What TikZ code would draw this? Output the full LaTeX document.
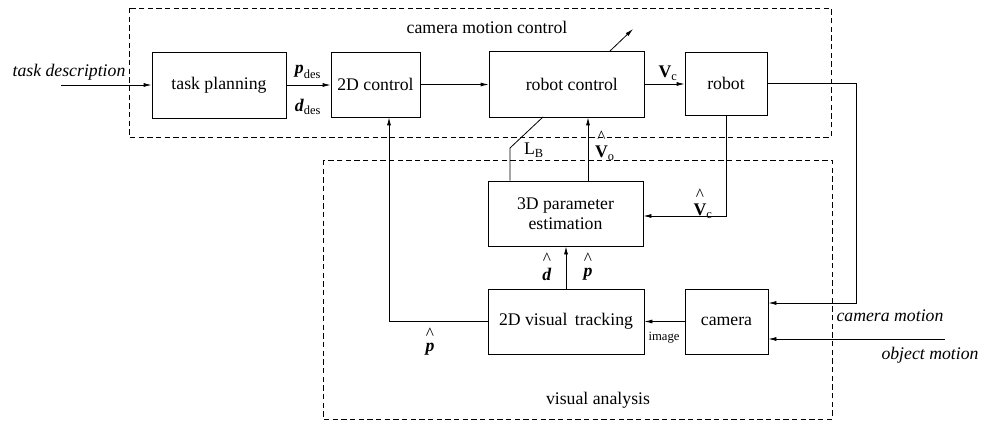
\documentclass[tikz,border=0pt]{standalone}
\usepackage{amsmath}
\usepackage{graphicx}
\usepackage{fontspec}
\setmainfont{Liberation Serif}
\usetikzlibrary{arrows.meta}
\newcommand\myhat[1]{\ensuremath{\overset{\text{\scalebox{1.4}{\^{}}}}{\text{#1}}}}
\begin{document}
\begin{tikzpicture}[x=0.75pt,y=-0.75pt,
  blk/.style={draw,fill=white,inner sep=0pt,line width=0.6pt,font=\fontsize{13.3}{15}\selectfont,align=center},
  arr/.style={-{Latex[length=6pt,width=3pt]},line width=0.6pt},
  ln/.style={line width=0.6pt},
  grp/.style={dash pattern=on 4pt off 2.5pt,line width=0.5pt},
  lbl/.style={inner sep=0pt,font=\fontsize{13.3}{15}\selectfont},
  ilbl/.style={inner sep=0pt,font=\fontsize{13.3}{15}\selectfont\itshape}]
\useasboundingbox (0,0) rectangle (981,424);
% group frames
\draw[grp] (129,8) rectangle (831,137);
\draw[grp] (323,160) rectangle (832,419);
\node[lbl] (gtop) at (487,27) {camera motion control};
\node[lbl] (gbot) at (598,400) {visual analysis};
% blocks
\node[blk,minimum width=100.5pt,minimum height=49.5pt] (tp) at (219,85) {task planning};
\node[blk,minimum width=66.75pt,minimum height=48.75pt] (c2d) at (375.5,84.5) {2D control};
\node[blk,minimum width=116.25pt,minimum height=49.5pt] (rc) at (566.5,84) {\hspace*{8pt}robot control};
\node[blk,minimum width=61.5pt,minimum height=47.25pt] (rob) at (726,83.5) {robot};
\node[blk,minimum width=116.25pt,minimum height=48.75pt] (est) at (565.5,213.5) {3D parameter\\estimation};
\node[blk,minimum width=117pt,minimum height=48.75pt] (trk) at (566,321.5) {2D visual\, tracking};
\node[blk,minimum width=62.25pt,minimum height=48.75pt] (cam) at (726.5,321.5) {camera};
% coordinates
\coordinate (tdin) at (61,85);
\coordinate (lb1) at (510,148);
\coordinate (lb2) at (543,117);
\coordinate (ad1) at (610,51);
\coordinate (ad2) at (633,29);
\coordinate (vo) at (588,0);
\coordinate (vc) at (727,216);
\coordinate (cm) at (856,303);
\coordinate (om) at (945,339);
\coordinate (pl) at (389,0);
% connectors
\draw[arr] (tdin) -- (tdin -| tp.west);
\draw[arr] (tp.east) -- (tp.east -| c2d.west);
\draw[arr] (c2d.east) -- (c2d.east -| rc.west);
\draw[arr] (rc.east) -- (rc.east -| rob.west);
\draw[ln] (lb1 |- est.north) -- (lb1) -- (lb2);
\draw[arr] (ad1) -- (ad2);
\draw[arr] (vo |- est.north) -- (vo |- rc.south);
\draw[arr] (rob.south) |- (est.east |- vc);
\draw[arr] (rob.east) -| (cm) -- (cm -| cam.east);
\draw[arr] (om) -- (om -| cam.east);
\draw[arr] (cam.west) -- (trk.east);
\draw[arr] (trk.north) -- (trk.north |- est.south);
\draw[arr] (trk.west) -| (pl |- c2d.south);
% labels
\node[ilbl] (ltd) at (69,72) {task description};
\node[lbl] (lpd) at (308,72) {$\textbf{\textit{p}}_{\text{des}}$};
\node[lbl] (ldd) at (308,107) {$\textbf{\textit{d}}_{\text{des}}$};
\node[lbl] (lvc) at (668,73) {$\textbf{V}_{\text{c}}$};
\node[lbl] (llb) at (534,150) {L$_{\text{B}}$};
\node[lbl] (lvo) at (605,145) {$\myhat{\textbf{V}}_{\text{o}}$};
\node[lbl] (lvch) at (703,203) {$\myhat{\textbf{V}}_{\text{c}}$};
\node[lbl] (ldh) at (547,266) {\myhat{\textbf{\textit{d}}}};
\node[lbl] (lph) at (588,266) {\myhat{\textbf{\textit{p}}}};
\node[lbl] (lph2) at (430,341) {\myhat{\textbf{\textit{p}}}};
\node[inner sep=0pt,font=\fontsize{9.5}{10}\selectfont] (limg) at (664,338) {image};
\node[ilbl] (lcm) at (890,316) {camera motion};
\node[ilbl] (lom) at (930,355) {object motion};
\end{tikzpicture}
\end{document}
